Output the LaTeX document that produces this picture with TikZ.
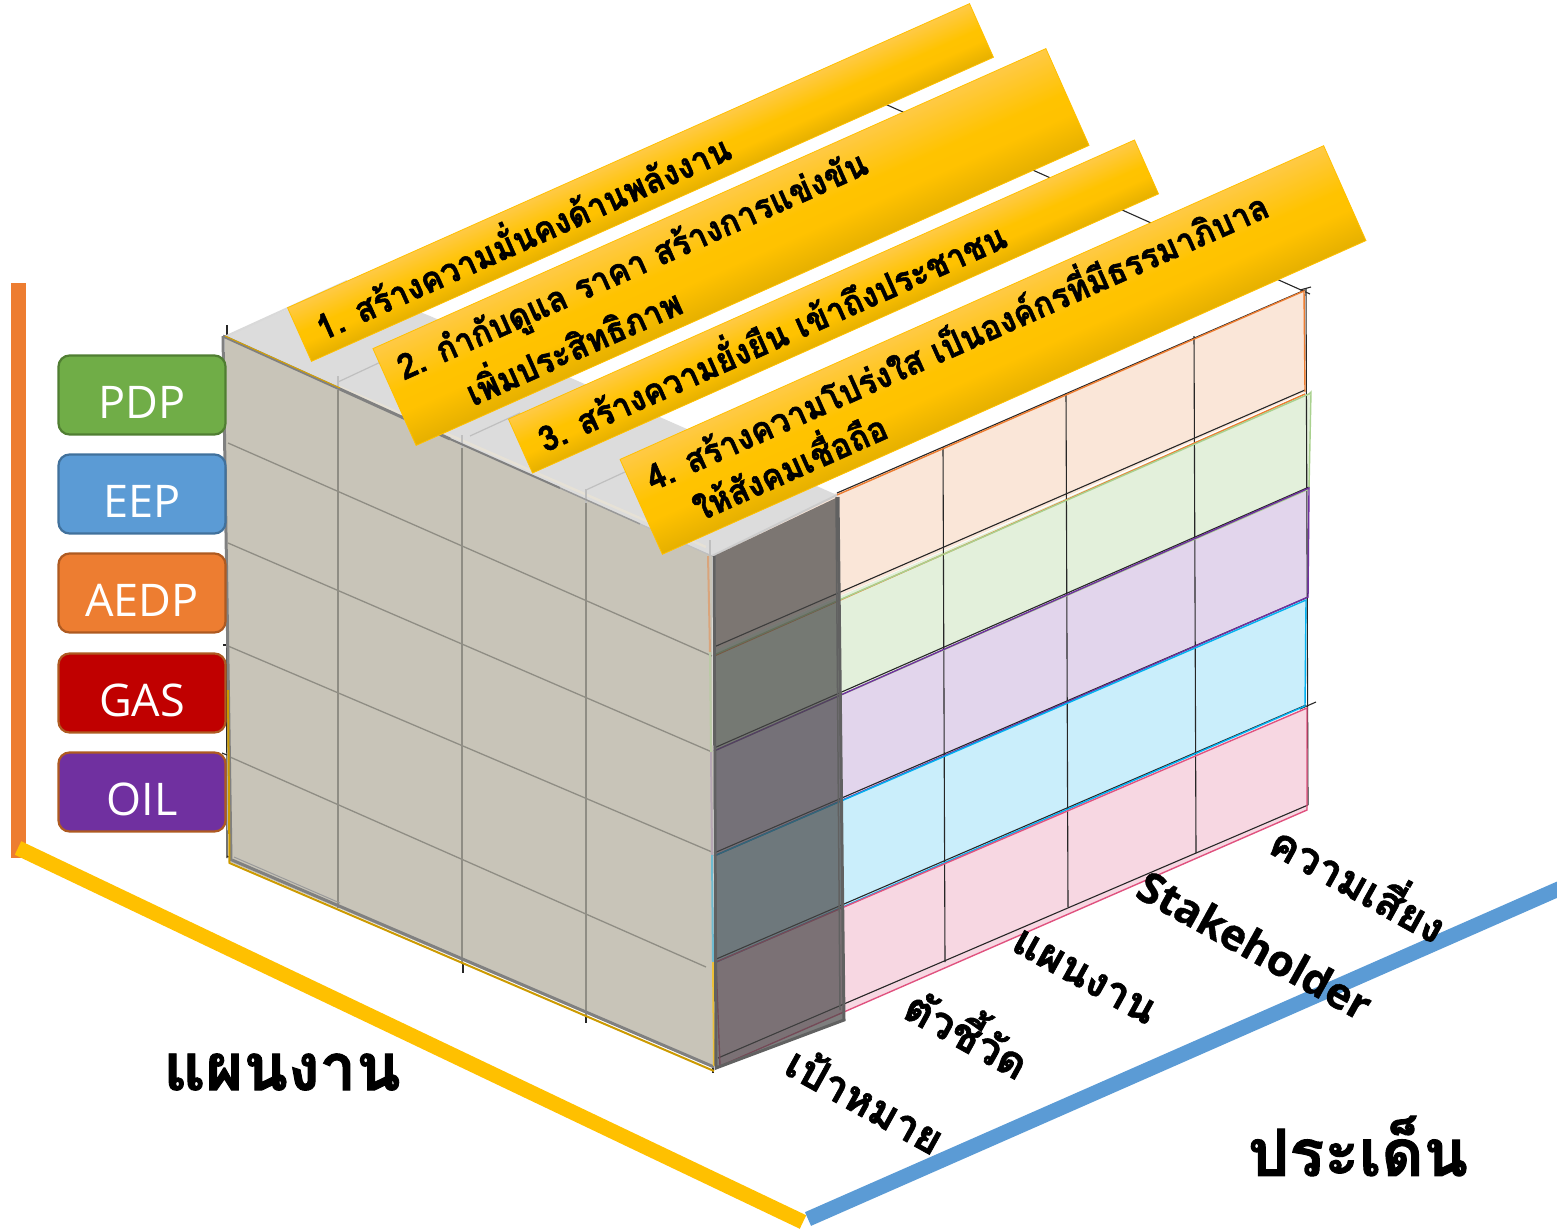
\documentclass[tikz,border=0pt]{standalone}
\usepackage{fontspec}
\newfontfamily\thaifont[Script=Thai,BoldFeatures={FakeBold=1.5}]{Loma}
\newfontfamily\latinfont[BoldFeatures={FakeBold=1}]{Open Sans}
\usetikzlibrary{calc}
\definecolor{beige}{HTML}{C8C4B8}
\definecolor{beigeline}{HTML}{E6E1D6}
\definecolor{topgray}{HTML}{DCDCDC}
\definecolor{edgegray}{HTML}{808080}
\definecolor{gridgray}{HTML}{8F8D84}
\definecolor{bandO}{HTML}{FAE6D8}
\definecolor{bandG}{HTML}{E3F0DB}
\definecolor{bandP}{HTML}{E2D5EC}
\definecolor{bandC}{HTML}{CAEEFB}
\definecolor{bandR}{HTML}{F7D7E2}
\definecolor{lineO}{HTML}{ED7D31}
\definecolor{lineG}{HTML}{A9D18E}
\definecolor{lineP}{HTML}{7030A0}
\definecolor{lineC}{HTML}{00B0F0}
\definecolor{lineR}{HTML}{E0527F}
\definecolor{gold}{HTML}{FFC000}
\definecolor{boxgreen}{HTML}{70AD47}
\definecolor{boxgreenb}{HTML}{507E32}
\definecolor{boxblueb}{HTML}{41719C}
\definecolor{boxbrown}{HTML}{AE5A21}
\definecolor{boxred}{HTML}{C00000}
\definecolor{axisblue}{HTML}{5B9BD5}
\definecolor{axisorange}{HTML}{ED7D31}
\pgfdeclareverticalshading{bannershade}{100bp}{
  rgb(0bp)=(0.90,0.69,0);
  rgb(25bp)=(0.90,0.69,0);
  rgb(42bp)=(1,0.76,0);
  rgb(52bp)=(1,0.765,0);
  rgb(75bp)=(1,0.79,0.27);
  rgb(100bp)=(1,0.79,0.27)}
\newcommand{\bshift}[1]{\raisebox{-23pt}[0pt][0pt]{#1}}
\tikzset{
  banner/.style={shading=bannershade,draw=gold,line width=.8pt,inner sep=0pt},
  bannertext/.style={rotate=24.03,xscale=.93,inner sep=0pt,font=\thaifont\bfseries\fontsize{35}{40}\selectfont,align=center,text=black},
  planbox/.style={rounded corners=11pt,line width=2.2pt,minimum width=167pt,minimum height=79pt,inner sep=0pt,text=white,font=\latinfont\fontsize{45}{50}\selectfont},
  axisbar/.style={line width=15pt},
  band/.style={line width=1.4pt},
  griddark/.style={black!85,line width=1.1pt},
  gridbeige/.style={gridgray,line width=1.3pt},
  gridtop/.style={black!25,line width=1.2pt},
  darkedge/.style={black!62,line width=3pt},
  axislabel/.style={inner sep=0pt,font=\thaifont\bfseries\fontsize{65}{68}\selectfont},
  collabel/.style={rotate=-29,inner sep=0pt,font=\thaifont\bfseries\fontsize{43}{48}\selectfont}
}
\begin{document}
\begin{tikzpicture}[x=1pt,y=-1pt]
\useasboundingbox (0,0) rectangle (1557,1228);
\clip (0,0) rectangle (1557,1228);
% axes
\draw[axisorange,line width=15pt] (18.5,283) -- (18.5,858);
\draw[axisbar,gold] (18,848) -- (803,1222);
\draw[axisbar,axisblue] (808,1219) -- (1570,884);
% back edge of the cube
\draw[griddark] (885,104) -- (1310,294);
% bands
\fill[bandO] (716,545) -- (1305,290) -- (1305,392) -- (716,650) -- cycle;
\fill[bandG] (716,650) -- (1311,392) -- (1309,489) -- (716,750) -- cycle;
\fill[bandP] (716,750) -- (1309,488) -- (1309,598) -- (716,855) -- cycle;
\fill[bandC] (716,855) -- (1306,600) -- (1306,707) -- (716,962) -- cycle;
\fill[bandR] (716,962) -- (1307,708) -- (1307,810) -- (720,1065) -- cycle;
% dark grid
\draw[griddark] (1306,288) -- (1308,805);
\draw[griddark] (943,447) -- (945,962);
\draw[griddark] (1066,393) -- (1068,907);
\draw[griddark] (1194,336) -- (1196,853);
\draw[griddark] (837,493) -- (1305,290);
\draw[griddark] (714,647) -- (1305,390);
\draw[griddark] (714,748) -- (1309,487);
\draw[griddark] (714,853) -- (1306,598);
\draw[griddark] (714,960) -- (1306,705);
\draw[griddark] (718,1058) -- (1308,805);
\draw[griddark] (1300,290) -- (1311,287);
\draw[griddark] (1300,709) -- (1316,702);
% coloured band edges
\draw[band,lineO] (837,495) -- (1304,291) -- (1305,392);
\draw[band,lineO] (714,656) -- (1305,394);
\draw[band,lineG] (714,655) -- (1309,394) -- (1311,392) -- (1309,489) -- (714,751);
\draw[band,lineP] (714,751) -- (1309,488) -- (1308,597) -- (714,856);
\draw[band,lineC] (714,856) -- (1306,600) -- (1305,706) -- (714,963);
\draw[band,lineR] (716,962) -- (1307,708) -- (1307,810) -- (720,1066) -- cycle;
% small ticks of the left face
\draw[griddark] (227,325) -- (227,340);
\draw[griddark] (226,340) -- (227,858);
\draw[griddark] (223,645) -- (227,645);
\draw[griddark] (222,753) -- (227,755);
\draw[griddark] (227,856) -- (229,857);
\draw[griddark] (463,964) -- (463,973);
\draw[griddark] (586,1015) -- (586,1023);
\draw[griddark] (713,1066) -- (713,1073);
% top face
\fill[topgray] (222,338) -- (347,283) -- (430,316) -- (837,495) -- (712,556) -- cycle;
\draw[gridtop] (338,382) -- (400,353);
\draw[gridtop] (470,436) -- (520,413);
\draw[gridtop] (586,490) -- (640,465);
\draw[white!85!black,line width=2pt] (222,338) -- (347,281);
\draw[white!80!black,line width=2pt] (712,556) -- (837,495);
% left face
\fill[beige] (225,338) -- (712,556) -- (714,1068) -- (230,862) -- cycle;
\draw[beigeline,line width=2.5pt] (340,387) -- (706,547);
\foreach \xa/\ya/\xb/\yb in {338/388/338/908,462/446/462/964,586/501/586/1015}
  \draw[gridbeige] (\xa,\ya) -- (\xb,\yb);
\draw[gridtop] (338,376) -- (338,390);
\draw[gridtop] (462,435) -- (462,448);
\draw[gridtop] (586,489) -- (586,503);
\draw[gridtop] (710,540) -- (710,556);
\draw[gridbeige] (228,443) -- (712,656);
\draw[gridbeige] (228,543) -- (712,752);
\draw[gridbeige] (228,646) -- (712,852);
\draw[gridbeige] (230,757) -- (706,967);
\draw[edgegray,line width=3pt] (223,336) -- (450,439);
\draw[edgegray,line width=2pt] (450,439) -- (560,488);
\draw[black!40,line width=1.5pt] (560,488) -- (640,524);
\draw[black!25,line width=1.2pt] (640,524) -- (712,556);
\draw[edgegray,line width=3pt] (223,336) -- (231,861);
\draw[gold!80!black,line width=2pt] (228,690) -- (229.5,863) -- (714,1071);
\draw[edgegray,line width=3pt] (232,860) -- (714,1067);
\draw[edgegray!80,line width=1pt] (234,857) -- (340,903);
\draw[gold!85!black,line width=1pt] (225,336) -- (340,388);
% thin coloured edge of the corner
\draw[lineO!45!beige,line width=2pt] (708,556) -- (710,652);
\draw[lineG!45!beige,line width=2pt] (710,652) -- (711,752);
\draw[lineP!20!beige,line width=2pt] (711,752) -- (712,855);
\draw[lineC!45!beige,line width=2pt] (712,855) -- (713,962);
\draw[gold!70!beige,line width=2pt] (713,962) -- (714,1066);
% dark side face
\fill[black!72,fill opacity=.7] (714,556) -- (838,497) -- (844,1020) -- (716,1068) -- cycle;
\draw[darkedge] (714,556) -- (716,1068) -- (844,1020) -- (838,497);
\draw[black!62,line width=1.5pt] (836,497) -- (840,1010);
% banners
\begin{scope}[transform canvas={shift={(640.5,182.5)},rotate=24.03}]
\node[banner,minimum width=746.7pt,minimum height=58.7pt] (b1) at (0,0) {};
\end{scope}
\begin{scope}[transform canvas={shift={(731,247)},rotate=24.03}]
\node[banner,minimum width=736.8pt,minimum height=106pt] (b2) at (0,0) {};
\end{scope}
\begin{scope}[transform canvas={shift={(833.5,306.5)},rotate=24.03}]
\node[banner,minimum width=685.4pt,minimum height=59pt] (b3) at (0,0) {};
\end{scope}
\begin{scope}[transform canvas={shift={(993,350)},rotate=24.03}]
\node[banner,minimum width=770.4pt,minimum height=103.9pt] (b4) at (0,0) {};
\end{scope}
\node[bannertext] (t1) at (521,233) {1. สร้างความมั่นคงด้านพลังงาน};
\node[bannertext] (t2a) at (633,267) {2. กำกับดูแล ราคา สร้างการแข่งขัน};
\node[bannertext] (t2b) at (572,343) {เพิ่มประสิทธิภาพ};
\node[bannertext] (t3) at (770,333) {3. สร้างความยั่งยืน เข้าถึงประชาชน};
\node[bannertext] (t4a) at (955,337) {4. สร้างความโปร่งใส เป็นองค์กรที่มีธรรมาภิบาล};
\node[bannertext] (t4b) at (788,463) {ให้สังคมเชื่อถือ};
% plan boxes
\node[planbox,fill=boxgreen,draw=boxgreenb] (pdp) at (142,395) {\bshift{PDP}};
\node[planbox,fill=axisblue,draw=boxblueb] (eep) at (142,494) {\bshift{EEP}};
\node[planbox,fill=axisorange,draw=boxbrown] (aedp) at (142,593) {\bshift{AEDP}};
\node[planbox,fill=boxred,draw=boxbrown] (gas) at (142,693) {\bshift{GAS}};
\node[planbox,fill=lineP,draw=boxbrown] (oil) at (142,792) {\bshift{OIL}};
% labels
\node[axislabel] (lplan) at (282,1072) {แผนงาน};
\node[axislabel] (lissue) at (1358,1146) {ประเด็น};
\node[collabel] (c1) at (866,1099) {เป้าหมาย};
\node[collabel] (c2) at (970,1029) {ตัวชี้วัด};
\node[collabel] (c3) at (1084,977) {แผนงาน};
\node[collabel,font=\latinfont\bfseries\fontsize{43}{48}\selectfont] (c4) at (1255,945) {Stakeholder};
\node[collabel] (c5) at (1361,879) {ความเสี่ยง};
\end{tikzpicture}
\end{document}
